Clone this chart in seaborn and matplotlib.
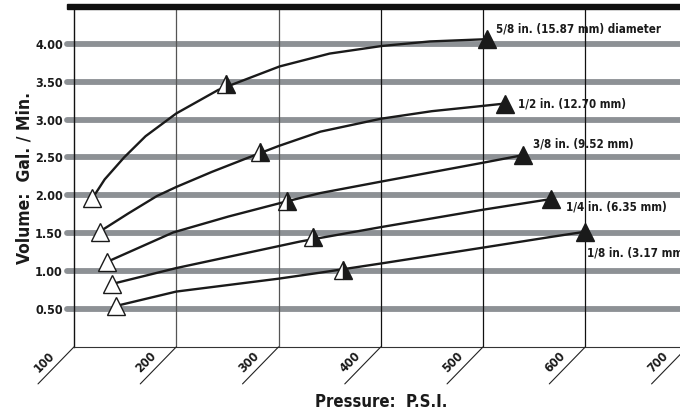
import matplotlib.pyplot as plt
import seaborn as sns
import pandas as pd
from matplotlib.patches import Rectangle

# nozzle sizes
sizes = ["5/8 in. (15.87 mm) diameter", "1/2 in. (12.70 mm)", "3/8 in. (9.52 mm)",
         "1/4 in. (6.35 mm)", "1/8 in. (3.17 mm)"]

psi_58 = [118, 130, 149, 170, 200, 241, 301, 350, 401, 448, 504]
gpm_58 = [1.96, 2.21, 2.50, 2.78, 3.08, 3.39, 3.70, 3.87, 3.97, 4.03, 4.06]

psi_12 = [125, 153, 181, 200, 235, 271, 300, 341, 400, 450, 500, 521]
gpm_12 = [1.52, 1.76, 1.99, 2.11, 2.31, 2.50, 2.65, 2.84, 3.01, 3.11, 3.18, 3.21]

psi_38 = [132, 197, 251, 308, 341, 400, 500, 539]
gpm_38 = [1.12, 1.51, 1.72, 1.92, 2.03, 2.18, 2.43, 2.53]

psi_14 = [137, 200, 321, 400, 500, 566]
gpm_14 = [0.83, 1.04, 1.39, 1.58, 1.81, 1.95]

psi_18 = [141, 200, 300, 341, 400, 500, 566, 600]
gpm_18 = [0.54, 0.73, 0.90, 0.98, 1.10, 1.31, 1.45, 1.52]

# half-filled markers in the middle of each curve
mid_psi = [249, 282, 308, 334, 363]
mid_gpm = [3.47, 2.57, 1.92, 1.45, 1.02]

y_ticks = [0.5, 1.0, 1.5, 2.0, 2.5, 3.0, 3.5, 4.0]
x_ticks = [100, 200, 300, 400, 500, 600, 700]

psi_lists = [psi_58, psi_12, psi_38, psi_14, psi_18]
gpm_lists = [gpm_58, gpm_12, gpm_38, gpm_14, gpm_18]

sns.set_style("white")
plt.rcParams['font.family'] = ['DejaVu Sans']
plt.rcParams['font.stretch'] = 'condensed'
plt.rcParams['font.weight'] = 'bold'

frames = []
for name, p, g in zip(sizes, psi_lists, gpm_lists):
    frames.append(pd.DataFrame({'psi': p, 'gpm': g, 'size': name}))
df = pd.concat(frames, ignore_index=True)

W, H = 680, 417
fig = plt.figure(figsize=(6.8, 4.17), dpi=100)
ax = fig.add_axes([74 / W, 1 - 346.9 / H, (W - 74) / W, (346.9 - 9) / H])

ink = '#1a1a1a'
sns.lineplot(data=df, x='psi', y='gpm', units='size', estimator=None, sort=False,
             color=ink, lw=1.7, ax=ax, zorder=3)

start_psi = [p[0] for p in psi_lists]
start_gpm = [g[0] for g in gpm_lists]
end_psi = [p[-1] for p in psi_lists]
end_gpm = [g[-1] for g in gpm_lists]
ax.plot(start_psi, start_gpm, '^', ms=13.5, mfc='white', mec=ink, mew=1, ls='none', zorder=4)
ax.plot(mid_psi, mid_gpm, '^', ms=13.5, fillstyle='right', mfc=ink, markerfacecoloralt='white',
        mec=ink, mew=1, ls='none', zorder=4)
ax.plot(end_psi, end_gpm, '^', ms=13.5, mfc=ink, mec=ink, mew=1, ls='none', zorder=4)

# curve labels beside the end markers
offsets = [(9, 10), (13, 0), (10, 11), (15, -8), (2, -21)]
for name, x, y, off in zip(sizes, end_psi, end_gpm, offsets):
    ax.annotate(name, xy=(x, y), xytext=off, textcoords='offset pixels',
                ha='left', va='center', fontsize=8.3, color=ink, annotation_clip=False)

# thick grey bands
for v in y_ticks:
    ax.axhline(v, xmin=-7 / 606, xmax=1, color='#8d9195', lw=4.2, clip_on=False, zorder=1)

for x in [200, 300]:
    ax.axvline(x, color='#555555', lw=0.9, zorder=2)
for x in [400, 500, 600]:
    ax.axvline(x, color='#111111', lw=0.9, zorder=2)

ax.set_xlim(100, 692.6)
ax.set_ylim(0, 4.458)
ax.set_xticks([])
ax.set_yticks(y_ticks)
ax.set_yticklabels([f"{v:.2f}" for v in y_ticks], fontsize=9, color=ink)
ax.tick_params(axis='y', length=0, pad=8)
ax.set_xlabel('')
ax.set_ylabel('')
for s in ['top', 'right']:
    ax.spines[s].set_visible(False)
ax.spines['left'].set_color('#111111')
ax.spines['left'].set_linewidth(1.0)
ax.spines['bottom'].set_color('#333333')
ax.spines['bottom'].set_linewidth(0.8)

# slanted tick marks with 45 degree labels
for x in x_ticks:
    ax.annotate('', xy=(x, 0), xytext=(-36, -37), textcoords='offset pixels',
                arrowprops=dict(arrowstyle='-', lw=0.8, color='#222222', shrinkA=0, shrinkB=0),
                annotation_clip=False)
    ax.annotate(str(x), xy=(x, 0), xytext=(-30, -15), textcoords='offset pixels',
                rotation=45, ha='center', va='center', fontsize=9, color=ink,
                annotation_clip=False)

# black bar along the top
fig.add_artist(Rectangle((67 / W, 1 - 9.3 / H), (W - 67) / W, 5.3 / H,
                         transform=fig.transFigure, color='#111111'))

fig.text(25 / W, 1 - 178 / H, "Volume:  Gal. / Min.", rotation=90, ha='center', va='center',
         fontsize=12.5, color=ink)
fig.text(381 / W, 1 - 401.7 / H, "Pressure:  P.S.I.", ha='center', va='center',
         fontsize=12, color=ink)

fig.savefig('out.png', dpi=100)
